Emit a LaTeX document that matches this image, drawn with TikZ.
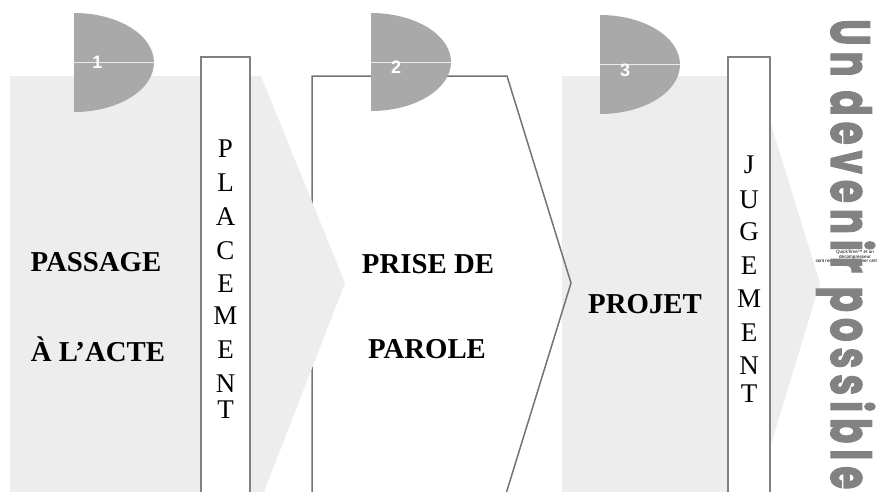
\documentclass[tikz,border=0pt]{standalone}
\usepackage{fontspec}
\setmainfont{Liberation Serif}
\newfontfamily\arialfont{Liberation Sans}
\newfontfamily\roundfont{Poppins}[LetterSpace=16,BoldFeatures={FakeBold=2.5}]
\definecolor{chev}{HTML}{EDEDED}
\definecolor{tabgrey}{HTML}{A9A9A9}
\definecolor{edgegrey}{HTML}{808080}
\definecolor{vertgrey}{HTML}{828282}
\begin{document}
\begin{tikzpicture}[x=1pt,y=-1pt,
  chevfill/.style={fill=chev},
  outline/.style={draw=edgegrey!90!black,line width=1.5pt,line join=miter},
  tabshape/.style={fill=tabgrey},
  tabline/.style={draw=white!75!tabgrey,line width=0.6pt},
  tabnum/.style={text=white,font=\arialfont\bfseries\fontsize{18}{18}\selectfont,inner sep=0pt},
  letterbox/.style={fill=white,draw=edgegrey,line width=1.6pt},
  boxletter/.style={font=\fontsize{27}{27}\selectfont,anchor=base,inner sep=0pt},
  biglabel/.style={font=\bfseries\fontsize{28.8}{28.8}\selectfont,anchor=base,inner sep=0pt},
  vertlabel/.style={text=vertgrey,font=\roundfont\bfseries,rotate=-90,anchor=base west,inner sep=0pt},
  qtlabel/.style={font=\arialfont\fontsize{4.6}{4.6}\selectfont,align=center,inner sep=0pt}
]
\useasboundingbox (0,0) rectangle (877,491);
\clip (0,0) rectangle (877,491);
% third chevron (background)
\path[chevfill] (562,76) -- (756,76) -- (820,283) -- (755,497) -- (562,497) -- cycle;
% second chevron (outline only)
\path[outline] (312,497) -- (312,76) -- (507,76) -- (571,283) -- (505,497);
% first chevron
\path[chevfill] (10,76) -- (261,76) -- (345,283) -- (262,497) -- (10,497) -- cycle;
% tabs
\path[tabshape] (74,13) arc[start angle=90,end angle=-90,x radius=80pt,y radius=49.5pt] -- cycle;
\path[tabshape] (371,13) arc[start angle=90,end angle=-90,x radius=80pt,y radius=49pt] -- cycle;
\path[tabshape] (600,15) arc[start angle=90,end angle=-90,x radius=80pt,y radius=49.5pt] -- cycle;
\path[tabline] (74,62.5) -- (154,62.5);
\path[tabline] (371,62) -- (451,62);
\path[tabline] (600,64.5) -- (680,64.5);
\node[tabnum] (n1) at (97.5,62) {1};
\node[tabnum] (n2) at (396,67) {2};
\node[tabnum] (n3) at (625,70) {3};
% letter boxes
\path[letterbox] (201,57) rectangle (250,500);
\path[letterbox] (728,57) rectangle (770,500);
\foreach \l/\y [count=\i] in {P/157,L/191,A/225,C/259,E/292,M/324,E/358,N/392,T/418}
  \node[boxletter] (pl\i) at (225.5,\y) {\l};
\foreach \l/\y [count=\i] in {J/173,U/208,G/240,E/274,M/307,E/341,N/374,T/402}
  \node[boxletter] (ju\i) at (749,\y) {\l};
% main labels
\node[biglabel] (passage) at (96,271) {PASSAGE};
\node[biglabel] (acte) at (98,361) {À L’ACTE};
\node[biglabel] (prise) at (428,273) {PRISE DE};
\node[biglabel] (parole) at (427,358) {PAROLE};
\node[biglabel] (projet) at (645,313) {PROJET};
% QuickTime placeholder text
\node[qtlabel] (qt) at (855,257) {QuickTime™ et un\\décompresseur\\sont requis pour visionner cette image.};
% vertical text
\node[vertlabel] (devenir) at (831,19) {\resizebox{470pt}{44pt}{Un devenir possible}};
\end{tikzpicture}
\end{document}
